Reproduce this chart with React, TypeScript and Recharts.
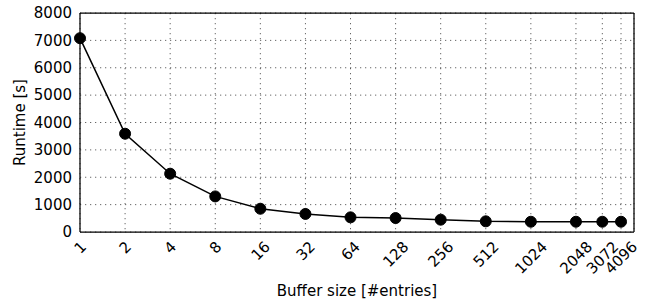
import React from 'react';
import { LineChart, Line, XAxis, YAxis, CartesianGrid } from 'recharts';

const FONT = '"DejaVu Sans", sans-serif';

// buffer sizes (x) and measured runtimes in seconds (y)
const bufferSizes = [1, 2, 4, 8, 16, 32, 64, 128, 256, 512, 1024, 2048, 3072, 4096];
const runtimes = [7080, 3590, 2130, 1300, 850, 660, 535, 510, 450, 390, 375, 375, 375, 375];

const yTicks = [0, 1000, 2000, 3000, 4000, 5000, 6000, 7000, 8000];
// base-10 minor ticks of the log axis (the ones not hidden by a major tick)
const xMinorTicks = [3, 5, 6, 7, 9, 20, 30, 40, 50, 60, 70, 80, 90, 200, 300, 400, 500, 600, 700, 800, 900, 2000, 3000, 4000, 5000];

const data = bufferSizes.map((size, i) => ({ size, runtime: runtimes[i] }));

const logX = {
  dataKey: 'size',
  type: 'number' as const,
  scale: 'log' as const,
  domain: [1, 5000],
  interval: 0 as const,
};

function XTick(props: any) {
  const { x, y, payload } = props;
  const label = String(payload.value);
  const w = label.length * 0.636 * 15;
  const cy = y + (w + 11) * 0.3536;
  return (
    <text
      x={x}
      y={cy}
      dy="0.36em"
      textAnchor="middle"
      fontSize={15}
      fill="#000"
      fontFamily={FONT}
      transform={`rotate(-45 ${x} ${cy})`}
    >
      {label}
    </text>
  );
}

function XLabel(props: any) {
  const vb = props.viewBox;
  return (
    <text x={vb.x + vb.width / 2} y={vb.y + 64} textAnchor="middle" fontSize={15} fill="#000" fontFamily={FONT}>
      Buffer size [#entries]
    </text>
  );
}

function YLabel(props: any) {
  const vb = props.viewBox;
  const cx = vb.x + 25;
  const cy = vb.y + vb.height / 2;
  return (
    <text x={cx} y={cy} textAnchor="middle" fontSize={15} fill="#000" fontFamily={FONT} transform={`rotate(-90 ${cx} ${cy})`}>
      Runtime [s]
    </text>
  );
}

const frame = { stroke: '#000', strokeWidth: 1.25 };
const tickMark = { stroke: '#000', strokeWidth: 1 };

export default function App() {
  return (
    <div style={{ position: 'absolute', left: 0, top: 0, width: 647, height: 305, background: '#fff', fontFamily: FONT }}>
      <LineChart width={647} height={305} data={data} margin={{ top: 13, right: 13, bottom: 0, left: 0 }}>
        <CartesianGrid xAxisId="main" yAxisId="main" stroke="#000" strokeWidth={0.6} strokeDasharray="1.25 3.75" />

        <XAxis
          xAxisId="main"
          {...logX}
          ticks={bufferSizes}
          height={73}
          axisLine={frame}
          tickLine={false}
          tickSize={0}
          tickMargin={8}
          tick={<XTick />}
          label={{ content: XLabel }}
        />
        <XAxis xAxisId="botMaj" {...logX} ticks={bufferSizes} mirror tick={false} axisLine={false} tickLine={tickMark} tickSize={4} />
        <XAxis xAxisId="botMin" {...logX} ticks={xMinorTicks} mirror tick={false} axisLine={false} tickLine={tickMark} tickSize={2} />
        <XAxis xAxisId="topMaj" {...logX} orientation="top" ticks={bufferSizes} mirror tick={false} axisLine={frame} tickLine={tickMark} tickSize={4} />
        <XAxis xAxisId="topMin" {...logX} orientation="top" ticks={xMinorTicks} mirror tick={false} axisLine={false} tickLine={tickMark} tickSize={2} />

        <YAxis
          yAxisId="main"
          type="number"
          domain={[0, 8000]}
          ticks={yTicks}
          interval={0}
          width={80}
          axisLine={frame}
          tickLine={false}
          tickSize={0}
          tickMargin={8}
          tick={{ fontSize: 15, fill: '#000', fontFamily: FONT }}
          label={{ content: YLabel }}
        />
        <YAxis yAxisId="leftMaj" type="number" domain={[0, 8000]} ticks={yTicks} interval={0} mirror tick={false} axisLine={false} tickLine={tickMark} tickSize={4} />
        <YAxis yAxisId="rightMaj" orientation="right" type="number" domain={[0, 8000]} ticks={yTicks} interval={0} mirror tick={false} axisLine={frame} tickLine={tickMark} tickSize={4} />

        <Line
          xAxisId="main"
          yAxisId="main"
          dataKey="runtime"
          stroke="#000"
          strokeWidth={1.5}
          dot={{ r: 5.5, fill: '#000', stroke: '#000', strokeWidth: 1 }}
          activeDot={false}
          isAnimationActive={false}
        />
      </LineChart>
    </div>
  );
}
